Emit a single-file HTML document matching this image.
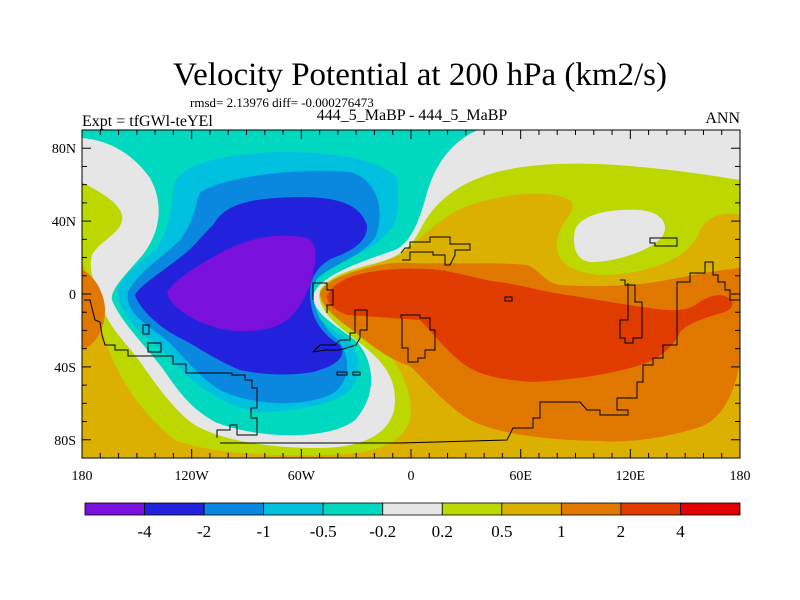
<!DOCTYPE html>
<html><head><meta charset="utf-8"><style>
body{margin:0;background:#fff;}
svg{display:block;font-family:"Liberation Serif",serif;}
</style></head><body>
<svg id="chart" width="800" height="600" viewBox="0 0 800 600">
<text x="420" y="85" font-size="33" text-anchor="middle">Velocity Potential at 200 hPa (km2/s)</text>
<text x="190" y="107" font-size="13">rmsd= 2.13976 diff= -0.000276473</text>
<text x="82" y="126" font-size="16">Expt = tfGWl-teYEl</text>
<text x="412" y="120" font-size="16" text-anchor="middle">444_5_MaBP - 444_5_MaBP</text>
<text x="740" y="123" font-size="16" text-anchor="end">ANN</text>
<defs><clipPath id="pc"><rect x="82" y="130" width="658" height="328"/></clipPath></defs>
<g clip-path="url(#pc)">
<rect x="82" y="130" width="658" height="328" fill="#dcb000"/>
<path fill="#bcd800" d="M82,130 L740,130 L740,215 C720,210 705,220 700,230 C690,262 640,275 600,275 C570,272 555,262 557,240 C560,220 580,210 570,200 C550,190 510,192 470,205 C440,215 415,245 400,255 C370,268 345,270 330,285 C326,300 345,315 370,335 C400,360 415,395 410,420 C400,450 360,455 320,455 C250,457 200,450 175,440 C150,420 130,395 118,370 C105,345 98,320 95,300 C92,285 88,275 82,262 Z"/>
<path fill="#e6e6e6" d="M478,130 L740,130 L740,180 C680,170 600,160 540,165 C480,170 440,190 420,230 C410,250 395,258 380,262 C350,270 330,275 320,290 C316,305 330,320 350,335 C375,355 395,370 395,400 C395,435 360,448 320,448 C260,448 210,438 188,420 C165,400 150,375 135,355 C118,335 105,320 100,300 C95,285 88,270 92,255 C100,240 125,232 122,215 C118,200 95,190 82,182 L82,130 Z"/>
<path fill="#e6e6e6" d="M575,230 C580,215 610,208 640,210 C662,212 670,225 662,237 C650,252 610,263 590,262 C575,260 572,245 575,230 Z"/>
<path fill="#00d8c0" d="M82,130 L478,130 C455,140 435,160 425,200 C415,235 405,245 395,250 C360,262 322,275 314,293 C310,310 330,322 355,340 C375,360 378,395 355,420 C330,440 260,440 215,422 C185,405 175,385 160,365 C140,340 120,320 112,300 C110,290 125,275 140,258 C160,235 165,205 150,178 C130,150 105,140 82,138 Z"/>
<path fill="#00c0e0" d="M173,190 C175,170 200,155 280,152 C340,152 380,160 397,178 C400,200 398,222 390,230 C375,250 345,260 325,268 C312,278 308,292 310,300 C312,315 330,330 347,338 C362,355 362,380 347,393 C330,405 300,410 263,412 C235,410 210,395 190,378 C175,365 160,345 147,338 C130,325 118,305 117,292 C120,278 140,262 153,252 C165,240 172,215 173,190 Z"/>
<path fill="#0a88e0" d="M200,192 C230,175 300,168 350,172 C380,180 385,215 375,238 C360,258 330,265 316,280 C308,300 318,322 338,340 C352,358 350,385 330,395 C300,408 250,405 220,390 C195,375 180,350 160,335 C140,320 125,310 128,292 C138,272 165,255 180,240 C195,220 195,205 200,192 Z"/>
<path fill="#2222dc" d="M213,225 C225,205 245,198 300,197 C340,197 360,205 367,225 C368,240 355,250 333,258 C318,265 310,278 310,292 C310,310 315,330 340,345 C346,355 340,365 313,372 C290,376 263,375 240,370 C215,360 195,345 180,338 C160,328 140,310 135,295 C140,285 165,270 187,252 C200,240 205,232 213,225 Z"/>
<path fill="#7a10dc" d="M167,292 C175,280 195,266 230,248 C255,236 285,233 307,238 C318,243 318,258 310,285 C300,310 290,322 270,328 C250,333 225,333 200,322 C185,315 170,305 167,292 Z"/>
<path fill="#e07800" d="M82,270 C95,275 105,295 105,310 C105,330 95,345 82,350 Z"/>
<path fill="#e07800" d="M320,293 C325,282 340,275 360,270 C380,264 395,262 410,263 C440,264 500,262 527,265 C540,270 545,283 560,285 C590,287 620,286 640,284 C670,281 700,272 740,268 L740,358 C736,395 720,420 700,427 C660,440 620,443 600,441 C550,440 500,435 470,420 C445,405 425,380 410,366 C390,360 370,345 355,332 C335,318 320,305 320,293 Z"/>
<path fill="#e03c00" d="M327,296 C332,285 345,276 370,272 C395,268 420,268 440,270 C470,275 480,280 500,282 C530,287 545,292 567,295 C600,300 620,304 650,308 C670,311 683,312 695,305 C705,298 715,293 725,296 C735,300 735,308 725,312 C705,318 690,322 680,332 C672,350 655,362 630,368 C600,376 570,380 533,382 C500,380 480,375 465,365 C445,350 435,335 420,320 C390,318 365,316 347,315 C335,310 327,304 327,296 Z"/>
<g fill="none" stroke="#000" stroke-width="1">
<path d="M217,438 L217,430 L230,430 L230,425 L237,425 L237,435 L257,435 L257,418 L251,418 L251,408 L257,408 L257,388 L252,388 L252,380 L245,380 L245,375 L232,375 L232,373 L186,373 L186,364 L173,364 L173,356 L128,356 L128,350 L115,350 L115,345 L105,345 L102,335 L100,322 L95,320 L90,300 L84,300"/>
<path d="M220,443 L400,443 L507,440 L513,428 L533,428 L533,418 L540,418 L540,402 L580,402 L587,410 L600,410 L600,415 L628,415 L628,410 L617,410 L617,398 L637,398 L637,382 L643,382 L643,365 L653,365 L653,358 L663,358 L663,345 L677,345 L677,342 L677,282 L690,282 L690,273 L705,273 L705,262 L713,262 L713,275 L718,275 L718,282 L725,282 L725,290 L730,290 L730,300 L740,300"/>
<path d="M313,300 L313,283 L327,283 L327,290 L333,290 L333,305 L327,305 L327,313"/>
<path d="M313,352 L320,345 L335,345 L340,340 L350,340 L350,333 L355,333 L355,310 L367,310 L367,330 L360,330 L360,338 L356,345 L340,350 L325,350 L313,352"/>
<path d="M401,318 L401,315 L420,315 L420,318 L430,318 L430,330 L435,330 L435,350 L425,350 L425,358 L418,358 L418,362 L408,362 L408,348 L402,348 L402,318"/>
<path d="M401,253 L405,248 L410,248 L410,242 L430,242 L430,237 L450,237 L450,244 L470,244 L470,250 L455,250 L455,255 L450,265 L445,265 L445,255 L433,255 L433,252 L410,252 L410,260 L402,260"/>
<path d="M620,280 L625,280 L625,285 L635,285 L635,302 L642,302 L642,338 L633,338 L633,343 L625,343 L625,338 L620,338 L620,320 L628,320 L628,283"/>
<path d="M650,238 L677,238 L677,246 L655,246 L655,243 L650,243 Z"/>
<path d="M337,372 L347,372 L347,375 L337,375 Z M353,372 L360,372 L360,375 L353,375 Z M143,325 L149,325 L149,334 L143,334 Z M148,343 L161,343 L161,352 L148,352 Z M505,297 L512,297 L512,301 L505,301 Z"/>
</g>
</g>
<rect x="82" y="130" width="658" height="328" fill="none" stroke="#000" stroke-width="1"/>
<g id="axes"></g>
<g id="colorbar"></g>
</svg>
<script>
const levelLabels = ["-4","-2","-1","-0.5","-0.2","0.2","0.5","1","2","4"];
const levelColors = ["#7a10dc","#2222dc","#0a88e0","#00c0e0","#00d8c0","#e6e6e6","#bcd800","#dcb000","#e07800","#e03c00","#e00000"];
const lonTicks = [-180,-120,-60,0,60,120,180];
const lonLabels = ["180","120W","60W","0","60E","120E","180"];
const latTicks = [80,40,0,-40,-80];
const latLabels = ["80N","40N","0","40S","80S"];
const NS="http://www.w3.org/2000/svg";
const X0=82,X1=740,Y0=130,Y1=458;
const xLon=l=>X0+(l+180)/360*(X1-X0);
const yLat=l=>Y0+(90-l)/180*(Y1-Y0);
function mk(t,a,p){const e=document.createElementNS(NS,t);for(const k in a)e.setAttribute(k,a[k]);p.appendChild(e);return e;}
const ax=document.getElementById('axes');
for(let l=-180;l<=180;l+=10){const x=xLon(l);const len=(l%60===0)?9:5;
 const t1=mk('line',{x1:x,x2:x,y1:Y1,y2:Y1-len,stroke:'#000'},ax);
 
 
 const t2=mk('line',{x1:x,x2:x,y1:Y0,y2:Y0+len,stroke:'#000'},ax);
 
 }
for(let l=-90;l<=90;l+=10){const y=yLat(l);const len=(l%40===0)?9:5;
 const t1=mk('line',{x1:X0,x2:X0+len,y1:y,y2:y,stroke:'#000'},ax);
 
 
 const t2=mk('line',{x1:X1,x2:X1-len,y1:y,y2:y,stroke:'#000'},ax);
 
 }
lonTicks.forEach((l,i)=>{const t=mk('text',{x:xLon(l),y:Y1+22,'font-size':14,'text-anchor':'middle'},ax);t.textContent=lonLabels[i];
 
 });
latTicks.forEach((l,i)=>{const t=mk('text',{x:X0-6,y:yLat(l)+5,'font-size':14,'text-anchor':'end'},ax);t.textContent=latLabels[i];
 
 });
const cb=document.getElementById('colorbar');
const CX0=85,CX1=740,CY=503,CH=12,bw=(CX1-CX0)/levelColors.length;
levelColors.forEach((c,i)=>{const r=mk('rect',{x:CX0+i*bw,y:CY,width:bw,height:CH,fill:c,stroke:'#000','stroke-width':0.8},cb);
 
 });
levelLabels.forEach((s,i)=>{const t=mk('text',{x:CX0+(i+1)*bw,y:CY+34,'font-size':17,'text-anchor':'middle'},cb);t.textContent=s;
 
 });
</script>
</body></html>
